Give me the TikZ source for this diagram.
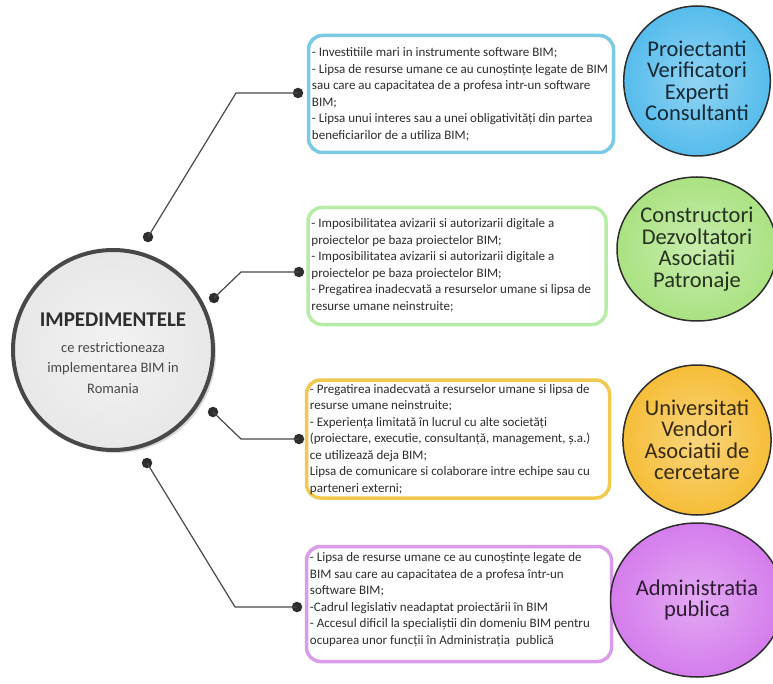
\documentclass[tikz,border=0pt]{standalone}
\usepackage{fontspec}
\setmainfont{Carlito}
\usetikzlibrary{shapes.geometric,shadows}
\definecolor{bimblue}{RGB}{122,202,228}
\definecolor{bimgreen}{RGB}{182,236,166}
\definecolor{bimyellow}{RGB}{241,201,78}
\definecolor{bimpurple}{RGB}{218,156,234}
\definecolor{grpblue}{RGB}{86,188,236}
\definecolor{grpgreen}{RGB}{170,226,130}
\definecolor{grpyellow}{RGB}{246,190,56}
\definecolor{grppurple}{RGB}{212,124,236}
\definecolor{bimdark}{RGB}{45,45,45}
\definecolor{bimgray}{RGB}{72,72,72}
% light centre, grey only near the rim
\pgfdeclareradialshading{impdball}{\pgfpointorigin}{%
  color(0bp)=(white!95!black); color(30bp)=(white!90!black);
  color(44bp)=(white!80!black); color(50bp)=(white!62!black);
  color(72bp)=(white!62!black)}

\begin{document}
\begin{tikzpicture}[x=1pt, y=-1pt,
    issue/.style={draw, line width=3.5pt, rounded corners=14pt, fill=white,
      inner sep=0pt},
    issuetext/.style={anchor=north west, inner sep=0pt, align=left,
      text=bimdark, font=\fontsize{13}{16.5}\selectfont},
    group/.style={ellipse, draw=bimdark, line width=1.5pt, inner sep=0pt,
      minimum width=146pt, minimum height=150pt, align=center,
      font=\fontsize{22.5}{21.5}\selectfont},
    joint/.style={circle, fill=bimdark, inner sep=0pt, minimum size=10.5pt},
    link/.style={bimgray, line width=1.2pt}]
  \useasboundingbox (0,0) rectangle (773,684);

  % Central circle
  \node[circle, draw=bimgray, line width=4pt, minimum size=200pt,
      shading=impdball, text=bimgray,
      drop shadow={opacity=0.3, shadow xshift=3pt, shadow yshift=-3pt}] %
    (impd) at (113,350) {};
  \node[align=center, text=bimgray, font=\fontsize{14.5}{20.5}\selectfont] %
    (impdtext) at ([yshift=-3pt]impd.center) {%
      {\fontsize{21}{21}\selectfont\bfseries\color{bimdark}IMPEDIMENTELE}\\[5pt]
      ce restrictioneaza\\
      implementarea BIM in\\
      Romania};

  % Boxes with the impediments
  \node[issue, draw=bimblue, minimum width=305pt, minimum height=117pt] %
    (box1) at (461,94) {};
  \node[issue, draw=bimgreen, minimum width=298pt, minimum height=117pt] %
    (box2) at (457,266) {};
  \node[issue, draw=bimyellow, minimum width=303pt, minimum height=118pt] %
    (box3) at (458,439) {};
  \node[issue, draw=bimpurple, minimum width=305pt, minimum height=115pt] %
    (box4) at (459,604) {};

  \node[issuetext] (txt1) at ([xshift=5pt, yshift=-14pt]box1.north west) {%
    - Investitiile mari in instrumente software BIM;\\
    - Lipsa de resurse umane ce au cunoștințe legate de BIM\\
    sau care au capacitatea de a profesa intr-un software\\
    BIM;\\
    - Lipsa unui interes sau a unei obligativități din partea\\
    beneficiarilor de a utiliza BIM;};
  \node[issuetext] (txt2) at ([xshift=5pt, yshift=-13pt]box2.north west) {%
    - Imposibilitatea avizarii si autorizarii digitale a\\
    proiectelor pe baza proiectelor BIM;\\
    - Imposibilitatea avizarii si autorizarii digitale a\\
    proiectelor pe baza proiectelor BIM;\\
    - Pregatirea inadecvată a resurselor umane si lipsa de\\
    resurse umane neinstruite;};
  \node[issuetext] (txt3) at ([xshift=5pt, yshift=-6pt]box3.north west) {%
    - Pregatirea inadecvată a resurselor umane si lipsa de\\
    resurse umane neinstruite;\\
    - Experiența limitată în lucrul cu alte societăți\\
    (proiectare, executie, consultanță, management, ș.a.)\\
    ce utilizează deja BIM;\\
    Lipsa de comunicare si colaborare intre echipe sau cu\\
    parteneri externi;};
  \node[issuetext] (txt4) at ([xshift=5pt, yshift=-8pt]box4.north west) {%
    - Lipsa de resurse umane ce au cunoștințe legate de\\
    BIM sau care au capacitatea de a profesa într-un\\
    software BIM;\\
    -Cadrul legislativ neadaptat proiectării în BIM\\
    - Accesul dificil la specialiștii din domeniu BIM pentru\\
    ocuparea unor funcții în Administrația\ \ publică};

  % Stakeholder groups
  \node[group, inner color=grpblue!65!white, outer color=grpblue,
      text=grpblue!22!black] (grp1) at (697,81) {%
    Proiectanti\\Verificatori\\Experti\\Consultanti};
  \node[group, inner color=grpgreen!65!white, outer color=grpgreen,
      text=grpgreen!22!black, minimum height=144pt] (grp2) at (697,249) {%
    Constructori\\Dezvoltatori\\Asociatii\\Patronaje};
  \node[group, inner color=grpyellow!65!white, outer color=grpyellow,
      text=grpyellow!22!black] (grp3) at (697,440) {%
    Universitati\\Vendori\\Asociatii de\\cercetare};
  \node[group, inner color=grppurple!65!white, outer color=grppurple,
      text=grppurple!22!black, minimum height=154pt] (grp4) at (697,600) {%
    Administratia\\publica};

  % Connectors from the circle to the boxes
  \node[joint] (s1) at (148,237) {};
  \node[joint] (s2) at (214,298) {};
  \node[joint] (s3) at (213,412) {};
  \node[joint] (s4) at (147,463) {};
  \node[joint] (t1) at (298,93) {};
  \node[joint] (t2) at (299,272) {};
  \node[joint] (t3) at (299,439) {};
  \node[joint] (t4) at (297,607) {};
  \coordinate (k1) at (236,93);
  \coordinate (k2) at (241,272);
  \coordinate (k3) at (241,439);
  \coordinate (k4) at (235,607);

  \draw[link] (s1.center) -- (k1) -- (t1.center);
  \draw[link] (s2.center) -- (k2) -- (t2.center);
  \draw[link] (s3.center) -- (k3) -- (t3.center);
  \draw[link] (s4.center) -- (k4) -- (t4.center);
\end{tikzpicture}
\end{document}
